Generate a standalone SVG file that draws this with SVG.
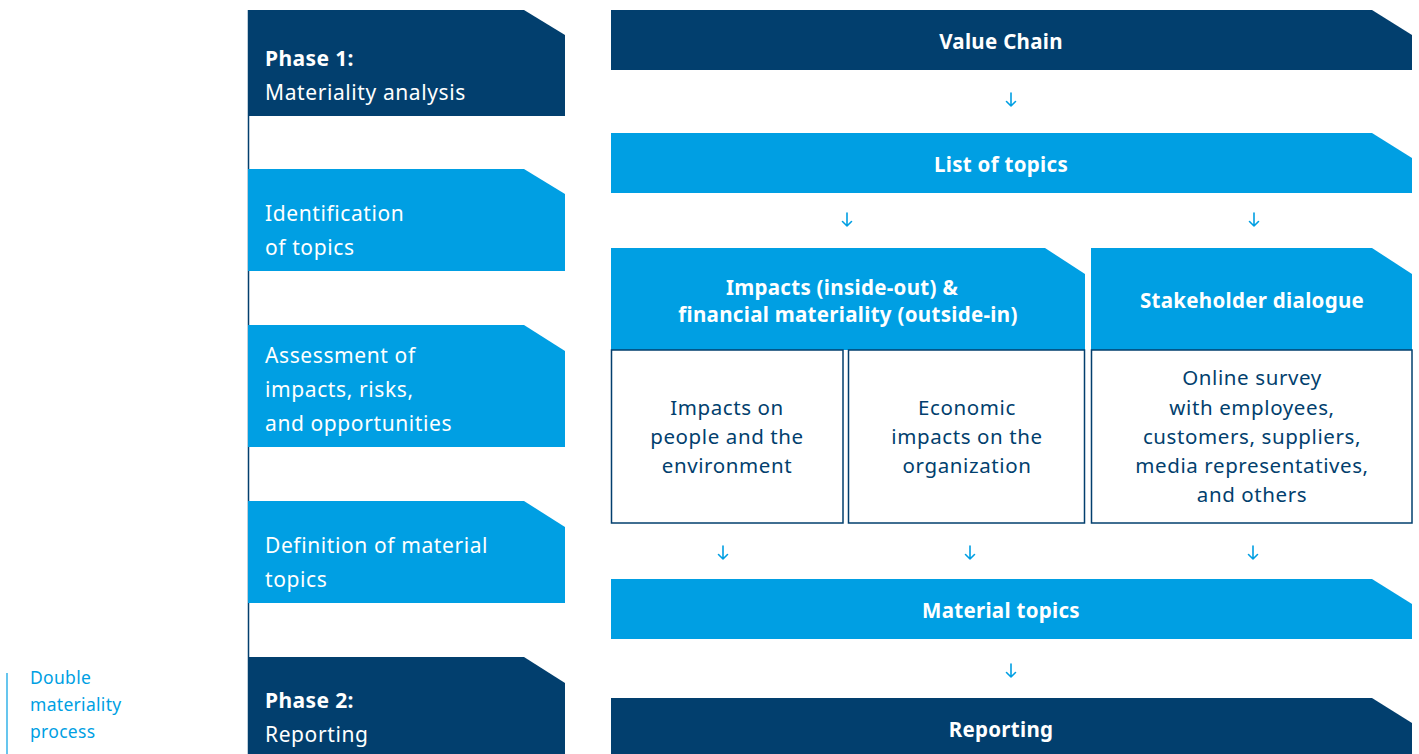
<svg xmlns="http://www.w3.org/2000/svg" width="1419" height="754" viewBox="0 0 1419 754">
<defs>
<style>
.dark{fill:#023F6E}
.light{fill:#009FE3}
.cell{fill:#fff;stroke:#023F6E;stroke-width:1.5}
text{font-family:"Noto Sans","Liberation Sans",sans-serif}
.lt{fill:#fff;font-size:21px;letter-spacing:0.6px}
.lb{fill:#fff;font-size:21px;font-weight:700;letter-spacing:0.4px}
.hd{fill:#fff;font-size:20.5px;font-weight:700;text-anchor:middle;letter-spacing:0.3px}
.body{fill:#023F6E;font-size:20.5px;text-anchor:middle;letter-spacing:0.6px}
.side{fill:#009FE3;font-size:17.5px;letter-spacing:0.3px}
.arr{fill:none;stroke:#009FE3;stroke-width:1.6;stroke-linecap:round;stroke-linejoin:round}
</style>
</defs>
<rect width="1419" height="754" fill="#fff"/>
<line x1="248.5" y1="10" x2="248.5" y2="754" stroke="#023F6E" stroke-width="1.5"/>
<g id="legend">
<line x1="7" y1="673" x2="7" y2="754" stroke="#009FE3" stroke-width="1.2"/>
<text class="side" x="30" y="684">Double</text>
<text class="side" x="30" y="711">materiality</text>
<text class="side" x="30" y="738">process</text>
</g>
<g id="phase1">
<path class="dark" d="M248 10H524L565 35V116H248Z"/>
<text class="lb" x="265" y="66">Phase 1:</text>
<text class="lt" x="265" y="100">Materiality analysis</text>
</g>
<g id="identification">
<path class="light" d="M248 169H524L565 194V271H248Z"/>
<text class="lt" x="265" y="221">Identification</text>
<text class="lt" x="265" y="255">of topics</text>
</g>
<g id="assessment">
<path class="light" d="M248 325H524L565 351V447H248Z"/>
<text class="lt" x="265" y="363">Assessment of</text>
<text class="lt" x="265" y="397">impacts, risks,</text>
<text class="lt" x="265" y="431">and opportunities</text>
</g>
<g id="definition">
<path class="light" d="M248 501H524L565 527V603H248Z"/>
<text class="lt" x="265" y="553">Definition of material</text>
<text class="lt" x="265" y="587">topics</text>
</g>
<g id="phase2">
<path class="dark" d="M248 657H524L565 683V754H248Z"/>
<text class="lb" x="265" y="708">Phase 2:</text>
<text class="lt" x="265" y="742">Reporting</text>
</g>
<g id="value-chain">
<path class="dark" d="M611 10H1372L1412 35V70H611Z"/>
<text class="hd" x="1001" y="49">Value Chain</text>
</g>
<g id="list-of-topics">
<path class="light" d="M611 133H1372L1412 158V193H611Z"/>
<text class="hd" x="1001" y="172">List of topics</text>
</g>
<g id="impacts-header">
<path class="light" d="M611 248H1045L1085 274V350H611Z"/>
<text class="hd" x="842" y="295">Impacts (inside-out) &amp;</text>
<text class="hd" x="848" y="322">financial materiality (outside-in)</text>
</g>
<g id="stakeholder-header">
<path class="light" d="M1091 248H1372L1412 274V350H1091Z"/>
<text class="hd" x="1252" y="308">Stakeholder dialogue</text>
</g>
<g id="impacts-people">
<rect class="cell" x="611.5" y="350" width="231.5" height="173"/>
<text class="body" x="727" y="415">Impacts on</text>
<text class="body" x="727" y="444">people and the</text>
<text class="body" x="727" y="473">environment</text>
</g>
<g id="economic-impacts">
<rect class="cell" x="848.5" y="350" width="236" height="173"/>
<text class="body" x="967" y="415">Economic</text>
<text class="body" x="967" y="444">impacts on the</text>
<text class="body" x="967" y="473">organization</text>
</g>
<g id="online-survey">
<rect class="cell" x="1091.5" y="350" width="320.5" height="173"/>
<text class="body" x="1252" y="385">Online survey</text>
<text class="body" x="1252" y="415">with employees,</text>
<text class="body" x="1252" y="444">customers, suppliers,</text>
<text class="body" x="1252" y="473">media representatives,</text>
<text class="body" x="1252" y="502">and others</text>
</g>
<g id="material-topics">
<path class="light" d="M611 579H1372L1412 604V639H611Z"/>
<text class="hd" x="1001" y="618">Material topics</text>
</g>
<g id="reporting">
<path class="dark" d="M611 698H1372L1412 723V754H611Z"/>
<text class="hd" x="1001" y="737">Reporting</text>
</g>
<g id="connectors">
<path class="arr" d="M1011 93V106M1006.5 101.5L1011 106L1015.5 101.5"/>
<path class="arr" d="M847 213V226M842.5 221.5L847 226L851.5 221.5"/>
<path class="arr" d="M1254 213V226M1249.5 221.5L1254 226L1258.5 221.5"/>
<path class="arr" d="M723 546V559M718.5 554.5L723 559L727.5 554.5"/>
<path class="arr" d="M970 546V559M965.5 554.5L970 559L974.5 554.5"/>
<path class="arr" d="M1253 546V559M1248.5 554.5L1253 559L1257.5 554.5"/>
<path class="arr" d="M1011 664V677M1006.5 672.5L1011 677L1015.5 672.5"/>
</g>
</svg>
